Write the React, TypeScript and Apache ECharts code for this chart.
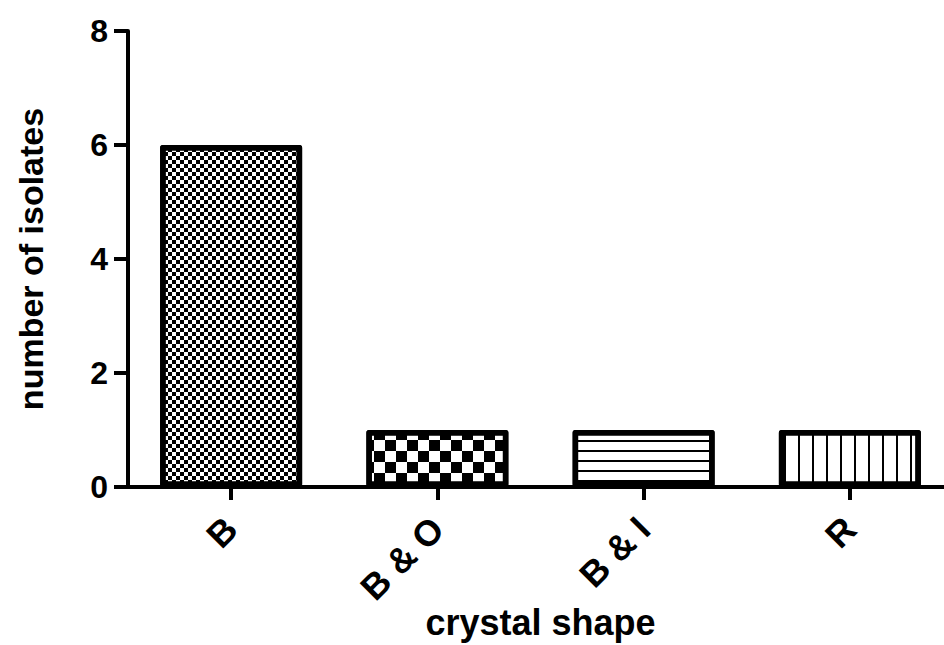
import React, { useEffect, useRef } from "react";
import * as echarts from "echarts";

const categories = ["B", "B & O", "B & I", "R"];
const isolateCounts = [6, 1, 1, 1];
const yTicks = { min: 0, max: 8, interval: 2 };
const xTitle = "crystal shape";
const yTitle = "number of isolates";

const FONT = "'Liberation Sans', Arial, sans-serif";

const decals = [
  // fine checkerboard
  { symbol: "rect", symbolSize: 1, color: "#000", dashArrayX: [[4, 4], [0, 4, 4, 0]], dashArrayY: [4, 0] },
  // coarse checkerboard
  { symbol: "rect", symbolSize: 1, color: "#000", dashArrayX: [[11, 11], [0, 11, 11, 0]], dashArrayY: [11, 0] },
  // horizontal lines
  { symbol: "rect", symbolSize: 1, color: "#000", dashArrayX: [1, 0], dashArrayY: [2, 8] },
  // vertical lines
  { symbol: "rect", symbolSize: 1, color: "#000", dashArrayX: [2, 12], dashArrayY: [1, 0] },
];

export default function App() {
  const ref = useRef<HTMLDivElement>(null);
  useEffect(() => {
    if (!ref.current) return;
    const chart = echarts.init(ref.current, null, { renderer: "svg" });
    chart.setOption({
      animation: false,
      backgroundColor: "#fff",
      aria: { enabled: false, decal: { show: true } },
      grid: { left: 128, top: 31, bottom: 158, right: -9, containLabel: false, outerBoundsMode: "none" },
      xAxis: {
        type: "category",
        data: categories,
        name: xTitle,
        nameLocation: "middle",
        nameGap: 117,
        nameMoveOverlap: false,
        nameTextStyle: { fontFamily: FONT, fontWeight: "bold", fontSize: 36, color: "#000" },
        axisLine: { show: true, lineStyle: { color: "#000", width: 4 } },
        axisTick: { show: true, alignWithLabel: true, length: 13, lineStyle: { color: "#000", width: 4 } },
        axisLabel: {
          rotate: 45,
          margin: 36,
          fontFamily: FONT,
          fontWeight: "bold",
          fontSize: 36,
          color: "#000",
        },
        splitLine: { show: false },
      },
      yAxis: {
        type: "value",
        min: yTicks.min,
        max: yTicks.max,
        interval: yTicks.interval,
        name: yTitle,
        nameLocation: "middle",
        nameRotate: 90,
        nameGap: 80,
        nameMoveOverlap: false,
        nameTextStyle: { fontFamily: FONT, fontWeight: "bold", fontSize: 34, color: "#000" },
        axisLine: { show: true, lineStyle: { color: "#000", width: 4 } },
        axisTick: { show: true, length: 14, lineStyle: { color: "#000", width: 4 } },
        axisLabel: { margin: 20, fontFamily: FONT, fontWeight: "bold", fontSize: 32, color: "#000" },
        splitLine: { show: false },
      },
      series: [
        {
          type: "bar",
          barWidth: 142,
          data: isolateCounts.map((v, i) => ({
            value: v,
            itemStyle: {
              color: "#fff",
              borderColor: "#000",
              borderWidth: 5.5,
              borderJoin: "round",
              decal: decals[i],
            },
          })),
        },
      ],
    });
    return () => chart.dispose();
  }, []);
  return (
    <div
      ref={ref}
      style={{ position: "absolute", left: 0, top: 0, width: 944, height: 645 }}
    />
  );
}
